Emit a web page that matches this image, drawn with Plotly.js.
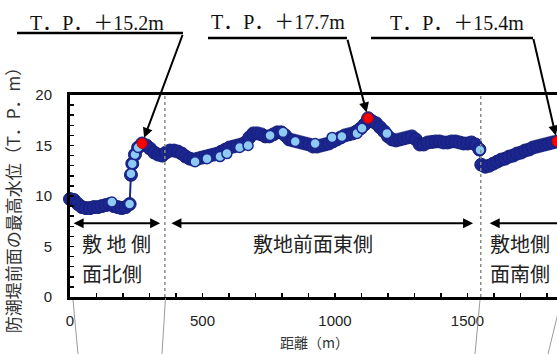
<!DOCTYPE html>
<html>
<head>
<meta charset="utf-8">
<script src="https://cdn.plot.ly/plotly-3.0.1.min.js"></script>
<style>
html,body{margin:0;padding:0;overflow:hidden;background:#fff;}
#chart{width:660px;height:354px;}
</style>
</head>
<body>
<div id="chart"></div>
<script>
// ---- data ----
const distance = [0,15,30,45,60,75,90,105,120,135,150,165,180,195,210,225,230,235,245,257,272,288,302,318,333,348,
  362,377,392,407,422,437,452,467,482,497,512,527,542,557,572,587,602,617,632,647,662,677,692,707,722,737,752,767,782,797,812,827,842,857,872,887,902,917,932,947,962,977,992,1007,1022,1037,1052,1067,1082,1097,1112,1125,1140,1155,1170,1185,1200,1215,1230,1245,1260,1275,1290,1305,1320,1335,1350,1365,1380,1395,1410,1425,1440,1455,1470,1485,1500,1515,1530,1545,
  1552,1567,1582,1597,1612,1627,1642,1657,1672,1687,1702,1717,1732,1747,1762,1777,1792,1807,1822,1838];
const level = [9.7,9.6,9.2,8.9,8.8,8.8,8.9,8.9,9.0,9.1,9.2,9.0,8.9,8.8,8.9,9.2,12.1,13.2,14.1,14.8,15.2,15.0,14.7,14.3,14.1,14.0,
  14.3,14.5,14.5,14.4,14.2,13.9,13.7,13.6,13.7,13.8,13.9,14.0,14.1,14.2,14.4,14.6,14.8,14.9,15.0,15.1,15.3,15.8,16.2,16.2,16.1,15.9,15.9,16.1,16.3,16.3,16.0,15.6,15.5,15.4,15.3,15.2,15.1,14.9,14.9,15.0,15.1,15.2,15.4,15.6,15.8,16.0,16.1,16.2,16.4,16.7,17.1,17.7,17.4,17.2,16.8,16.4,15.9,15.6,15.5,15.6,15.7,15.8,15.9,15.6,15.1,15.1,15.3,15.35,15.4,15.4,15.3,15.3,15.4,15.4,15.3,15.2,15.2,15.3,15.1,14.6,
  13.1,12.9,13.0,13.2,13.4,13.6,13.7,13.9,14.0,14.2,14.3,14.5,14.6,14.8,14.9,15.0,15.1,15.2,15.3,15.4];
const lightDistance = [158,225,230,235,245,257,472,517,566,592,640,672,755,804,850,925,989,1026,1083,1102,1196,1547];
const lightLevel    = [9.4,9.2,12.2,13.2,14.1,14.8,13.4,13.7,13.9,14.2,14.8,15.0,16.0,16.3,15.4,15.2,15.8,15.9,16.2,16.7,16.2,14.55];
const peakDistance = [272,1125,1838];
const peakLevel    = [15.2,17.7,15.4];
const peakLabels   = ['T．P．＋15.2m','T．P．＋17.7m','T．P．＋15.4m'];
const sectionBounds = [358,1550];
const xTickVals = [0,500,1000,1500];
const yTickVals = [0,5,10,15,20];
const yTitle = '防潮堤前面の最高水位（T．P．m）';
const xTitle = '距離（m）';

// ---- layout helpers (pixel -> paper) ----
const ML=70, MT=95, PW=583, PH=202;
const px = v => (v-ML)/PW;
const py = v => (MT+PH-v)/PH;

const navy='#1c2690', light='#8ecaf2';

const traces = [
  {x:distance, y:level, type:'scatter', mode:'lines+markers', cliponaxis:false,
   line:{color:navy,width:2},
   marker:{size:13,color:navy,line:{color:'#16207a',width:1}}, hoverinfo:'skip'},
  {x:lightDistance, y:lightLevel, type:'scatter', mode:'markers', cliponaxis:false,
   marker:{size:10,color:light,line:{color:navy,width:1.5}}, hoverinfo:'skip'},
  {x:peakDistance, y:peakLevel, type:'scatter', mode:'markers', cliponaxis:false,
   marker:{size:10,color:'#ff0000',line:{color:'#d00000',width:1}}, hoverinfo:'skip'}
];

const shapes = [];
sectionBounds.forEach(b=>shapes.push({type:'line',xref:'x',yref:'paper',x0:b,x1:b,y0:0,y1:1,
  line:{color:'#8a8a8a',width:1.5,dash:'dot'}}));
// underlines of the peak labels
[[17,183,33],[208,347,38],[371,533,38]].forEach(u=>shapes.push({type:'line',xref:'paper',yref:'paper',
  x0:px(u[0]),x1:px(u[1]),y0:py(u[2]),y1:py(u[2]),line:{color:'#000',width:2.5}}));
// thin leader lines below the axis
[[73,300,78,354],[165.5,298,162,354],[480,300,475,354],[560,305,548,354]].forEach(s=>shapes.push({type:'line',xref:'paper',yref:'paper',
  x0:px(s[0]),y0:py(s[1]),x1:px(s[2]),y1:py(s[3]),line:{color:'#9a9a9a',width:1}}));

const annotations = [];
const labelPos = [[97,23],[278,22],[457,23]];
const tails = [[183,33],[347,38],[533,38]];
const peakPx = [[142,143],[368,118],[557,142]];
peakLabels.forEach((t,i)=>{
  annotations.push({xref:'paper',yref:'paper',x:px(labelPos[i][0]),y:py(labelPos[i][1]),text:t,showarrow:false,
    xanchor:'center',yanchor:'middle',font:{family:'Liberation Serif, Noto Sans CJK JP',size:20,color:'#111'}});
  annotations.push({xref:'x',yref:'y',x:peakDistance[i],y:peakLevel[i],text:'',showarrow:true,
    ax:tails[i][0]-peakPx[i][0],ay:tails[i][1]-peakPx[i][1],arrowhead:2,arrowsize:1,arrowwidth:2,arrowcolor:'#000',standoff:6});
});
// section double arrows
[[8,340],[377,1521],[1578,2150]].forEach(a=>annotations.push({xref:'x',yref:'y',axref:'x',ayref:'y',
  x:a[1],y:7.3,ax:a[0],ay:7.3,text:'',showarrow:true,arrowside:'end+start',arrowhead:2,arrowsize:1,arrowwidth:2,arrowcolor:'#000',standoff:0,startstandoff:0}));
// section labels
const lblFont={family:'Noto Sans CJK JP',size:20,color:'#222'};
[['敷 地 側',38,5.3,'left'],['面北側',38,2.35,'left'],['敷地前面東側',917,5.3,'center'],['敷地側',1578,5.3,'left'],['面南側',1578,2.35,'left']]
  .forEach(l=>annotations.push({xref:'x',yref:'y',x:l[1],y:l[2],text:l[0],showarrow:false,xanchor:l[3],yanchor:'middle',font:lblFont}));
// x axis title (centred under the visible part, as in the reference)
annotations.push({xref:'paper',yref:'paper',x:px(314),y:py(342),text:xTitle,showarrow:false,xanchor:'center',yanchor:'middle',
  font:{family:'Noto Sans CJK JP',size:14,color:'#333'}});

const layout = {
  width:660, height:354,
  margin:{l:ML,r:660-ML-PW,t:MT,b:354-MT-PH},
  paper_bgcolor:'#fff', plot_bgcolor:'#fff', showlegend:false,
  xaxis:{range:[0,2200],tickvals:xTickVals,ticks:'inside',ticklen:4,tickwidth:1.5,tickcolor:'#000',
    minor:{dtick:100,ticks:'inside',ticklen:4,tickcolor:'#000',tickwidth:1.5},
    showline:true,linecolor:'#000',linewidth:3,mirror:true,showgrid:false,zeroline:false,
    ticklabelstandoff:8,tickfont:{family:'Liberation Sans',size:15,color:'#222'}},
  yaxis:{range:[0,20],tickvals:yTickVals,ticks:'inside',ticklen:4,tickwidth:1.5,tickcolor:'#000',
    minor:{dtick:1,ticks:'inside',ticklen:4,tickcolor:'#000',tickwidth:1.5},
    showline:true,linecolor:'#000',linewidth:3,mirror:true,showgrid:false,zeroline:false,
    ticklabelstandoff:12,tickfont:{family:'Liberation Sans',size:15,color:'#222'},
    title:{text:yTitle,standoff:12,font:{family:'Noto Sans CJK JP',size:17,color:'#333'}}},
  shapes:shapes, annotations:annotations
};
Plotly.newPlot('chart',traces,layout,{staticPlot:true,displayModeBar:false});
</script>
</body>
</html>
